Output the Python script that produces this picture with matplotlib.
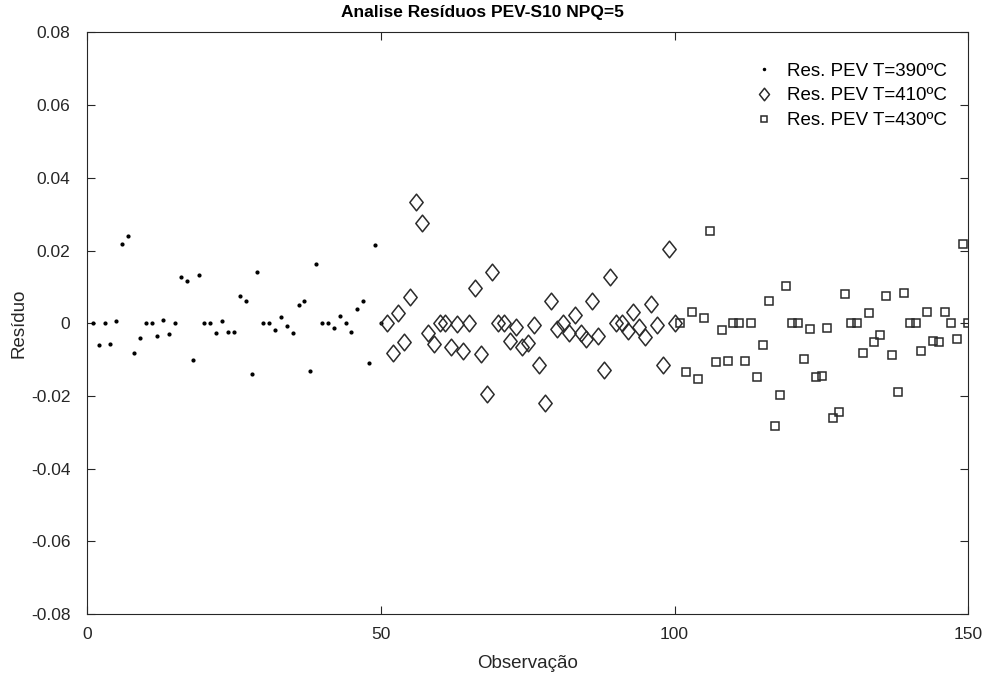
import numpy as np
import matplotlib.pyplot as plt
from matplotlib.path import Path

plt.rcParams['font.family'] = ['Liberation Sans', 'DejaVu Sans']

# residuos por observacao
obs_390 = np.arange(1, 51)
res_390 = [0, -0.006, 0, -0.0058, 0.0006, 0.0219, 0.024, -0.0083, -0.004, 0,
           0, -0.0034, 0.0008, -0.003, 0, 0.0127, 0.0116, -0.0101, 0.0133, 0,
           0, -0.0026, 0.0007, -0.0024, -0.0024, 0.0074, 0.0061, -0.0139, 0.014, 0.0002,
           0, -0.0018, 0.0017, -0.0008, -0.0026, 0.005, 0.006, -0.013, 0.0163, 0,
           0, -0.0014, 0.0021, 0, -0.0023, 0.004, 0.0062, -0.011, 0.0216, 0]

obs_410 = np.arange(51, 101)
res_410 = [0, -0.0082, 0.0027, -0.0052, 0.0073, 0.0333, 0.0277, -0.0026, -0.0058, 0,
           0, -0.0064, -0.0002, -0.0075, 0, 0.0096, -0.0084, -0.0194, 0.0141, 0,
           0, -0.005, -0.0009, -0.0066, -0.0055, -0.0006, -0.0116, -0.022, 0.0062, -0.0017,
           0.0002, -0.0028, 0.0024, -0.0026, -0.0043, 0.0062, -0.0036, -0.0128, 0.0128, 0,
           0, -0.002, 0.003, -0.0009, -0.0039, 0.0053, -0.0006, -0.0116, 0.0205, 0]

obs_430 = np.arange(101, 151)
res_430 = [0, -0.0135, 0.003, -0.0154, 0.0014, 0.0254, -0.0107, -0.0019, -0.0105, 0,
           0, -0.0105, 0, -0.0148, -0.0059, 0.006, -0.0283, -0.0197, 0.0103, 0,
           0, -0.0099, -0.0016, -0.0149, -0.0145, -0.0012, -0.026, -0.0243, 0.008, 0,
           0, -0.0082, 0.0027, -0.0051, -0.0032, 0.0076, -0.0088, -0.019, 0.0083, 0,
           0, -0.0076, 0.003, -0.0049, -0.0052, 0.003, 0, -0.0042, 0.0218, 0]

# losango estilo matlab (mais alto que largo)
diamond = Path([(0, 1), (0.8, 0), (0, -1), (-0.8, 0), (0, 1)],
               [Path.MOVETO, Path.LINETO, Path.LINETO, Path.LINETO, Path.CLOSEPOLY])

fig = plt.figure(figsize=(9.86, 6.77), dpi=100)
ax = fig.add_axes([0.0882, 0.093, 0.894, 0.859])

ax.plot(obs_390, res_390, ls='none', marker='.', ms=4, color='k',
        label='Res. PEV T=390ºC')
ax.plot(obs_410, res_410, ls='none', marker=diamond, ms=12, mfc='none', mec='#2a2a2a',
        mew=1.1, label='Res. PEV T=410ºC')
ax.plot(obs_430, res_430, ls='none', marker='s', ms=6, mfc='none', mec='#2a2a2a',
        mew=1.1, label='Res. PEV T=430ºC')

ax.set_xlim(0, 150)
ax.set_ylim(-0.08, 0.08)
ax.set_xticks([0, 50, 100, 150])
ax.set_yticks(np.arange(-0.08, 0.081, 0.02))
ax.set_yticklabels(['-0.08', '-0.06', '-0.04', '-0.02', '0', '0.02', '0.04', '0.06', '0.08'])
ax.tick_params(direction='in', top=True, right=True, length=6, width=0.8,
               labelsize=12.5, colors='#262626')
ax.tick_params(axis='y', pad=12)
ax.tick_params(axis='x', pad=9)
for s in ax.spines.values():
    s.set_linewidth(0.8)
    s.set_color('#262626')

ax.set_xlabel('Observação', fontsize=13.5, color='#262626', labelpad=9.5)
ax.set_ylabel('Resíduo', fontsize=13.5, color='#262626', labelpad=2.5)
ax.set_title('Analise Resíduos PEV-S10 NPQ=5', fontsize=12.5, fontweight='bold',
             pad=11, x=0.449)

leg = ax.legend(loc='upper right', bbox_to_anchor=(0.976, 0.948), fontsize=13.5,
                frameon=False, borderaxespad=0, borderpad=0, handletextpad=0.5,
                labelspacing=0.4, markerscale=0.75, handlelength=1.5)

fig.savefig('out.png', dpi=100)
